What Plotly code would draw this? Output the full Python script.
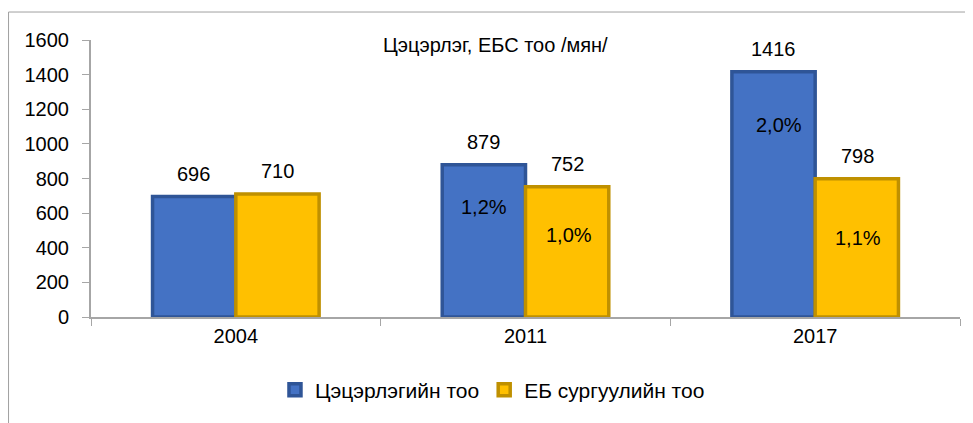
import plotly.graph_objects as go

years = ["2004", "2011", "2017"]
kinder = [696, 879, 1416]
schools = [710, 752, 798]
kinder_pct = ["", "1,2%", "2,0%"]
school_pct = ["", "1,0%", "1,1%"]
kinder_pct_y = [0, 635, 1109]
school_pct_y = [0, 474, 456]
y_ticks = [0, 200, 400, 600, 800, 1000, 1200, 1400, 1600]

FONT = "Liberation Sans, Arial, sans-serif"
fig = go.Figure()
fig.add_trace(go.Bar(
    x=years, y=kinder, name="Цэцэрлэгийн тоо",
    marker=dict(color="#4472C4", line=dict(color="#2F5597", width=3.5)),
))
fig.add_trace(go.Bar(
    x=years, y=schools, name="ЕБ сургуулийн тоо",
    marker=dict(color="#FFC000", line=dict(color="#BF9000", width=3.5)),
))

anns = []
for i, yr in enumerate(years):
    anns.append(dict(x=i, y=kinder[i], text=str(kinder[i]), xref="x", yref="y",
                     showarrow=False, xshift=-42, yshift=23, yanchor="middle",
                     font=dict(size=20, color="#000000")))
    anns.append(dict(x=i, y=schools[i], text=str(schools[i]), xref="x", yref="y",
                     showarrow=False, xshift=42, yshift=23, yanchor="middle",
                     font=dict(size=20, color="#000000")))
    if kinder_pct[i]:
        anns.append(dict(x=i, y=kinder_pct_y[i], text=kinder_pct[i], xref="x", yref="y",
                         showarrow=False, xshift=-42 + (6 if i == 2 else 0),
                         font=dict(size=20, color="#000000")))
    if school_pct[i]:
        anns.append(dict(x=i, y=school_pct_y[i], text=school_pct[i], xref="x", yref="y",
                         showarrow=False, xshift=43,
                         font=dict(size=20, color="#000000")))
anns.append(dict(x=0.465, y=1571, xref="paper", yref="y", text="Цэцэрлэг, ЕБС тоо /мян/",
                 showarrow=False, yanchor="middle", xanchor="center",
                 font=dict(size=20, color="#000000")))

fig.update_layout(
    width=973, height=423,
    margin=dict(l=83, r=21, t=32, b=114),
    paper_bgcolor="white", plot_bgcolor="white",
    font=dict(family=FONT, size=19, color="#000000"),
    barmode="group", bargap=0.425, bargroupgap=0,
    showlegend=True,
    legend=dict(orientation="h", x=0.462, xanchor="center", y=-0.264, yanchor="middle",
                font=dict(size=21), itemwidth=30, tracegroupgap=0),
    annotations=anns,
    shapes=[dict(type="line", xref="paper", yref="paper", x0=-0.0949, x1=1.05, y0=1.101, y1=1.101,
                 line=dict(color="#A0A0A0", width=1)),
            dict(type="line", xref="paper", yref="paper", x0=-0.0949, x1=-0.0949, y0=1.101, y1=-0.45,
                 line=dict(color="#A0A0A0", width=1))],
)
fig.update_xaxes(type="category", range=[-0.5, 2.5], showline=True, linecolor="#A6A6A6", linewidth=2,
                 ticks="outside", tickson="boundaries", ticklen=7, tickcolor="#A6A6A6",
                 tickfont=dict(size=20), showgrid=False, tickangle=0, automargin=False)
fig.update_yaxes(range=[0, 1600], tickvals=y_ticks, showline=True, linecolor="#A6A6A6", linewidth=2,
                 ticks="outside", ticklen=7, tickcolor="#A6A6A6", showgrid=False, zeroline=False,
                 tickfont=dict(size=20), ticklabelstandoff=9, automargin=False)
fig.write_html("out.html")
